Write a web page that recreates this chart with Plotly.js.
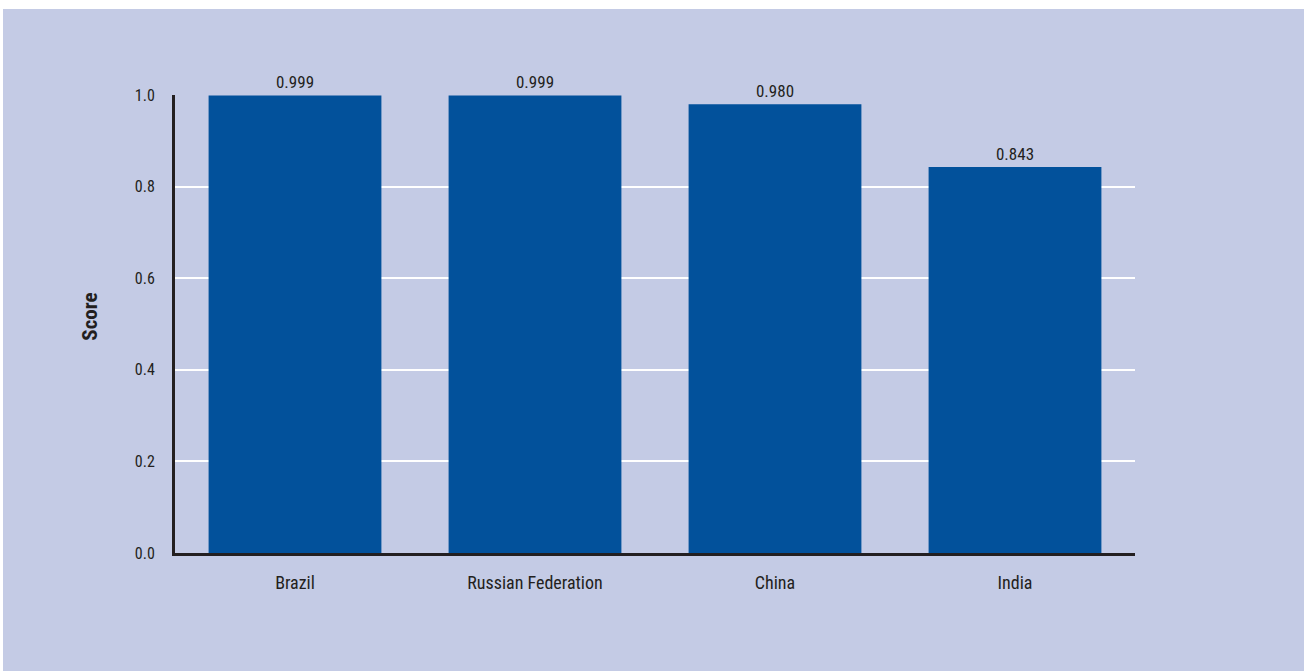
<!DOCTYPE html>
<html>
<head>
<meta charset="utf-8">
<script src="https://cdn.plot.ly/plotly-3.0.1.min.js"></script>
<style>
  html, body { margin: 0; padding: 0; background: #ffffff; }
  #chart { position: absolute; left: 3px; top: 9px; width: 1301px; height: 662px; }
</style>
</head>
<body>
<div id="chart"></div>
<script>
// Development score by country
const countries = ["Brazil", "Russian Federation", "China", "India"];
const scores = [0.999, 0.999, 0.980, 0.843];
const yTicks = [0, 0.2, 0.4, 0.6, 0.8, 1.0];

const fontFamily = '"Liberation Sans Narrow", "Arial Narrow", "Roboto Condensed", "Liberation Sans", sans-serif';

const trace = {
  type: "bar",
  x: countries,
  y: scores,
  marker: { color: "#02519b" },
  text: scores.map(v => v.toFixed(3)),
  textposition: "outside",
  cliponaxis: false,
  textfont: { family: fontFamily, size: 17, color: "#231f20" },
  hoverinfo: "x+y"
};

const layout = {
  width: 1301,
  height: 662,
  paper_bgcolor: "#c4cbe5",
  plot_bgcolor: "#c4cbe5",
  margin: { l: 172, r: 169, t: 86, b: 118 },
  bargap: 0.28,
  showlegend: false,
  font: { family: fontFamily, size: 17, color: "#231f20" },
  xaxis: {
    type: "category",
    range: [-0.5, 3.5],
    showgrid: false,
    showline: true,
    linecolor: "#231f20",
    linewidth: 3,
    ticks: "outside",
    ticklen: 11,
    tickcolor: "rgba(0,0,0,0)",
    tickfont: { family: fontFamily, size: 18, color: "#231f20" }
  },
  yaxis: {
    range: [0, 1.0],
    tickvals: yTicks,
    tickformat: ".1f",
    showgrid: true,
    gridcolor: "#ffffff",
    gridwidth: 2,
    zeroline: false,
    showline: true,
    linecolor: "#231f20",
    linewidth: 3,
    ticks: "outside",
    ticklen: 14,
    tickcolor: "rgba(0,0,0,0)",
    tickfont: { family: fontFamily, size: 16, color: "#231f20" }
  },
  annotations: [{
    text: "<b>Score</b>",
    xref: "paper",
    yref: "paper",
    x: -0.088,
    y: 0.515,
    xanchor: "center",
    yanchor: "middle",
    textangle: -90,
    showarrow: false,
    font: { family: fontFamily, size: 21, color: "#231f20" }
  }]
};

Plotly.newPlot("chart", [trace], layout, { displayModeBar: false, staticPlot: true });
</script>
</body>
</html>
